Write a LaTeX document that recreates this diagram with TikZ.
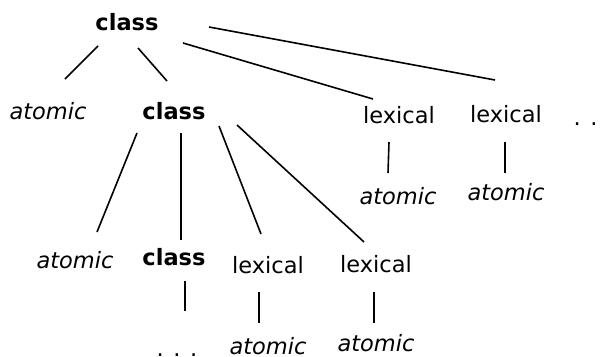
\documentclass[tikz,border=0pt]{standalone}
\usepackage{fontspec}
\setmainfont{DejaVu Sans}
\begin{document}
\begin{tikzpicture}[x=1pt,y=-1pt,
  lbl/.style={anchor=base,inner sep=0pt,font=\fontsize{22.5}{26}\selectfont},
  cls/.style={lbl,font=\fontsize{22.5}{26}\selectfont\bfseries},
  atm/.style={lbl,font=\fontsize{22.5}{26}\selectfont\itshape},
  edge/.style={line width=1.6pt}]
\useasboundingbox (0,0) rectangle (602,356);
% nodes
\node[cls] (c1) at (127,30) {class};
\node[atm] (a1) at (48,119) {atomic};
\node[cls] (c2) at (174,119) {class};
\node[lbl] (l1) at (399,123) {lexical};
\node[lbl] (l2) at (506,122) {lexical};
\node[lbl] (d1) at (594,125) {. . .};
\node[atm] (a2) at (398,204) {atomic};
\node[atm] (a3) at (506,200) {atomic};
\node[atm] (a4) at (75,268) {atomic};
\node[cls] (c3) at (174,265) {class};
\node[lbl] (l3) at (268,273) {lexical};
\node[lbl] (l4) at (376,272) {lexical};
\node[lbl] (d2) at (177,356) {. . .};
\node[atm] (a5) at (268,354) {atomic};
\node[atm] (a6) at (376,351) {atomic};
% connector end points
\coordinate (c1a1s) at (98,46);   \coordinate (c1a1e) at (65,79);
\coordinate (c1c2s) at (138,48);  \coordinate (c1c2e) at (167,81);
\coordinate (c1l1s) at (183,43);  \coordinate (c1l1e) at (373,99);
\coordinate (c1l2s) at (209,27);  \coordinate (c1l2e) at (495,80);
\coordinate (l1a2s) at (389,142); \coordinate (l1a2e) at (388,173);
\coordinate (l2a3s) at (505,142); \coordinate (l2a3e) at (505,173);
\coordinate (c2a4s) at (137,133); \coordinate (c2a4e) at (97,232);
\coordinate (c2c3s) at (181,133); \coordinate (c2c3e) at (181,240);
\coordinate (c2l3s) at (219,126); \coordinate (c2l3e) at (261,234);
\coordinate (c2l4s) at (237,125); \coordinate (c2l4e) at (364,242);
\coordinate (c3d2s) at (185,281); \coordinate (c3d2e) at (185,311);
\coordinate (l3a5s) at (259,292); \coordinate (l3a5e) at (259,323);
\coordinate (l4a6s) at (374,292); \coordinate (l4a6e) at (374,323);
% connectors
\draw[edge] (c1a1s) -- (c1a1e);
\draw[edge] (c1c2s) -- (c1c2e);
\draw[edge] (c1l1s) -- (c1l1e);
\draw[edge] (c1l2s) -- (c1l2e);
\draw[edge] (l1a2s) -- (l1a2e);
\draw[edge] (l2a3s) -- (l2a3e);
\draw[edge] (c2a4s) -- (c2a4e);
\draw[edge] (c2c3s) -- (c2c3e);
\draw[edge] (c2l3s) -- (c2l3e);
\draw[edge] (c2l4s) -- (c2l4e);
\draw[edge] (c3d2s) -- (c3d2e);
\draw[edge] (l3a5s) -- (l3a5e);
\draw[edge] (l4a6s) -- (l4a6e);
\end{tikzpicture}
\end{document}
